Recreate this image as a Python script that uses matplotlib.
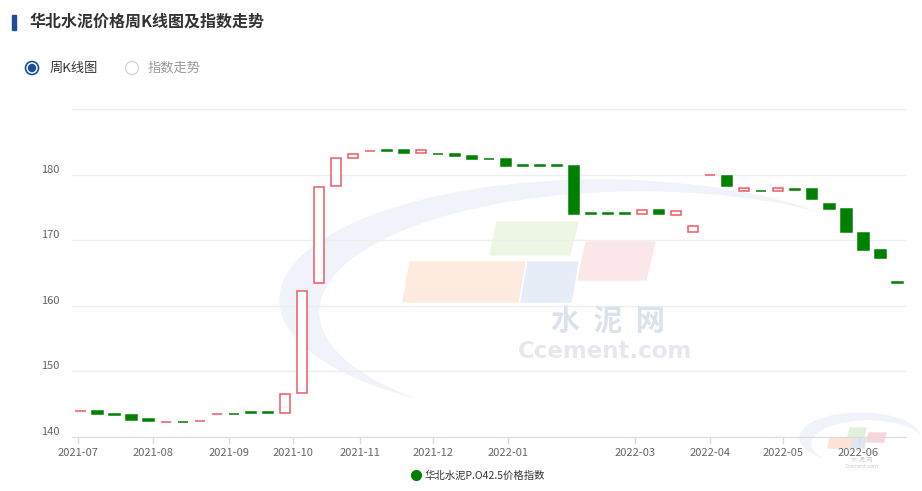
import numpy as np
import pandas as pd
import matplotlib
matplotlib.use('Agg')
import matplotlib.pyplot as plt
from matplotlib.patches import Ellipse, Polygon, Rectangle
from matplotlib.lines import Line2D

plt.rcParams['font.family'] = ['Noto Sans CJK SC', 'DejaVu Sans']

# weekly dates (holiday weeks are missing)
dates = ['2021-07-02', '2021-07-09', '2021-07-16', '2021-07-23', '2021-07-30',
         '2021-08-06', '2021-08-13', '2021-08-20', '2021-08-27',
         '2021-09-03', '2021-09-10', '2021-09-17', '2021-09-24',
         '2021-10-08', '2021-10-15', '2021-10-22', '2021-10-29',
         '2021-11-05', '2021-11-12', '2021-11-19', '2021-11-26',
         '2021-12-03', '2021-12-10', '2021-12-17', '2021-12-24', '2021-12-31',
         '2022-01-07', '2022-01-14', '2022-01-21', '2022-01-28',
         '2022-02-11', '2022-02-18', '2022-02-25',
         '2022-03-04', '2022-03-11', '2022-03-18', '2022-03-25',
         '2022-04-01', '2022-04-08', '2022-04-15', '2022-04-22', '2022-04-29',
         '2022-05-06', '2022-05-13', '2022-05-20', '2022-05-27',
         '2022-06-03', '2022-06-10', '2022-06-17']

opens = [143.95, 144.0, 143.4, 143.3, 142.65, 142.25, 142.3, 142.35, 143.4,
         143.5, 143.7, 143.7, 143.65, 146.75, 163.4, 178.25, 182.55, 183.65,
         183.75, 183.75, 183.35, 183.2, 183.2, 182.8, 182.45, 182.4, 181.45,
         181.45, 181.45, 181.35, 174.1, 174.1, 174.1, 174.05, 174.55, 173.9,
         171.25, 179.95, 179.8, 177.45, 177.5, 177.45, 177.8, 177.8, 175.5,
         174.8, 171.15, 168.5, 163.55]

closes = [144.0, 143.4, 143.35, 142.55, 142.35, 142.3, 142.25, 142.4, 143.45,
          143.45, 143.65, 143.65, 146.5, 162.3, 178.2, 182.5, 183.1, 183.7,
          183.7, 183.4, 183.75, 183.15, 182.8, 182.4, 182.4, 181.4, 181.4,
          181.4, 181.4, 174.05, 174.05, 174.05, 174.05, 174.55, 173.95, 174.4,
          172.15, 180.0, 178.35, 178.05, 177.45, 177.95, 177.75, 176.25, 174.8,
          171.25, 168.55, 167.25, 163.5]

month_labels = ['2021-07', '2021-08', '2021-09', '2021-10', '2021-11', '2021-12',
                '2022-01', '2022-03', '2022-04', '2022-05', '2022-06']

y_ticks = [140, 150, 160, 170, 180, 190]

W, H = 922, 491
fig = plt.figure(figsize=(W / 100, H / 100), dpi=100)


def fx(x):
    return x / W


def fy(y):
    return 1 - y / H


ax = fig.add_axes([fx(72), fy(436.7), fx(906) - fx(72), (436.7 - 109.3) / H])
ax.set_facecolor('none')

# watermark (figure coords, behind the axes)
wm_blue = '#f0f4fa'
fig.add_artist(Ellipse((fx(600), fy(300)), 640 / W, 240 / H, color=wm_blue, zorder=0))
fig.add_artist(Ellipse((fx(640), fy(312)), 640 / W, 240 / H, color='white', zorder=0))
quads = [
    ([(497, 222), (578, 222), (570, 255), (490, 255)], '#edf5e3'),
    ([(410, 262), (525, 262), (518, 302), (403, 302)], '#fdebdf'),
    ([(528, 262), (578, 262), (571, 302), (521, 302)], '#e6edf6'),
    ([(586, 242), (655, 242), (646, 280), (578, 280)], '#fbe6e9'),
]
for pts, c in quads:
    fig.add_artist(Polygon([(fx(a), fy(b)) for a, b in pts], closed=True, color=c, zorder=0))
fig.text(fx(608), fy(322), '水  泥  网', ha='center', va='center', fontsize=21,
         fontweight='bold', color='#dae2ec', zorder=0)
fig.text(fx(605), fy(352), 'Ccement.com', ha='center', va='center', fontsize=16.5,
         fontweight='bold', color='#e5e9ee', zorder=0, family='DejaVu Sans')

# small logo bottom right
fig.add_artist(Ellipse((fx(860), fy(438)), 120 / W, 50 / H, color=wm_blue, zorder=0))
fig.add_artist(Ellipse((fx(868), fy(444)), 112 / W, 46 / H, color='white', zorder=0))
small = [
    ([(850, 428), (866, 428), (864, 437), (848, 437)], '#e5f0d8'),
    ([(830, 438), (852, 438), (850, 448), (828, 448)], '#fde3d3'),
    ([(853, 438), (866, 438), (864, 448), (851, 448)], '#dfe7f3'),
    ([(869, 433), (886, 433), (884, 442), (867, 442)], '#f8d6dc'),
]
for pts, c in small:
    fig.add_artist(Polygon([(fx(a), fy(b)) for a, b in pts], closed=True, color=c, zorder=0))
fig.text(fx(862), fy(460), '水 泥 网', ha='center', va='center', fontsize=4.5,
         color='#c5cedb', zorder=0)
fig.text(fx(862), fy(467), 'Ccement.com', ha='center', va='center', fontsize=3.5,
         color='#c5cedb', zorder=0, family='DejaVu Sans')

# candles
x = np.arange(len(dates))
o = np.array(opens)
c = np.array(closes)
up = c >= o
red = '#ee5a64'
green = '#008000'
ax.bar(x[up], c[up] - o[up], bottom=o[up], width=0.6, color='white',
       edgecolor=red, linewidth=1.1, zorder=3)
ax.bar(x[~up], c[~up] - o[~up], bottom=o[~up], width=0.6, color=green,
       edgecolor=green, linewidth=1.1, zorder=3)

ax.set_xlim(-0.5, len(dates) - 0.5)
ax.set_ylim(140, 190)

# month ticks placed by date between the weekly categories
d_ord = pd.to_datetime(pd.Series(dates)).map(pd.Timestamp.toordinal).values
m_ord = pd.to_datetime(pd.Series([m + '-01' for m in month_labels])).map(pd.Timestamp.toordinal).values
tick_pos = np.where(m_ord < d_ord[0], (m_ord - d_ord[0]) / 7.0,
                    np.interp(m_ord, d_ord, x))
ax.set_xticks(tick_pos)
ax.set_xticklabels(month_labels)
ax.tick_params(axis='x', length=5, width=1, color='#d9dde3', labelsize=8,
               labelcolor='#666666', pad=3)

ax.set_yticks(y_ticks)
ax.set_yticklabels([str(v) for v in y_ticks[:-1]] + [''])
ax.tick_params(axis='y', length=0, labelsize=8, labelcolor='#666666', pad=9)
for lab in ax.get_yticklabels():
    lab.set_verticalalignment('bottom')

ax.yaxis.grid(True, color='#eeeeee', linewidth=1, zorder=1)
ax.set_axisbelow(True)
for s in ['top', 'right', 'left']:
    ax.spines[s].set_visible(False)
ax.spines['bottom'].set_color('#d9dde3')

# title and radio buttons
fig.add_artist(Rectangle((fx(12), fy(30)), 4 / W, 15 / H, color='#1d4f96'))
fig.text(fx(30), fy(22), '华北水泥价格周K线图及指数走势', fontsize=11.5, fontweight='bold',
         color='#333333', va='center', ha='left')

fig.add_artist(Ellipse((fx(32), fy(68)), 13 / W, 13 / H, facecolor='white',
                       edgecolor='#1d4f96', linewidth=1.2))
fig.add_artist(Ellipse((fx(32), fy(68)), 7 / W, 7 / H, color='#1d4f96'))
fig.text(fx(50), fy(68), '周K线图', fontsize=9.5, color='#333333', va='center')
fig.add_artist(Ellipse((fx(132), fy(68)), 13 / W, 13 / H, facecolor='white',
                       edgecolor='#d6d6d6', linewidth=1.0))
fig.text(fx(148), fy(68), '指数走势', fontsize=9.5, color='#999999', va='center')

# legend
handle = Line2D([], [], marker='o', linestyle='none', markersize=7,
                markerfacecolor=green, markeredgecolor=green)
leg = fig.legend([handle], ['华北水泥P.O42.5价格指数'], loc='center',
                 bbox_to_anchor=(fx(478), fy(476)), frameon=False, fontsize=7.5,
                 handletextpad=0.3, handlelength=1.0)
for t in leg.get_texts():
    t.set_color('#333333')

fig.savefig('out.png', dpi=100)
